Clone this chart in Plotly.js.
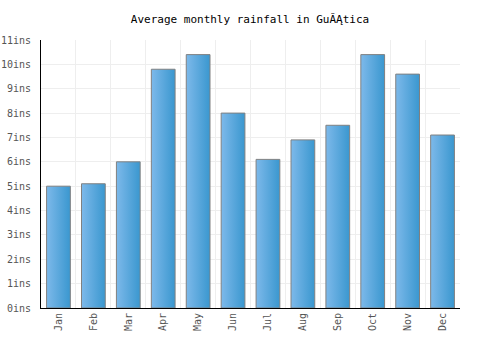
<!DOCTYPE html>
<html><head><meta charset="utf-8">
<script src="https://cdn.plot.ly/plotly-3.0.1.min.js"></script>
<style>html,body{margin:0;padding:0;background:#fff}</style>
</head><body>
<div id="chart" style="width:500px;height:350px"></div>
<script>
const months = ["Jan","Feb","Mar","Apr","May","Jun","Jul","Aug","Sep","Oct","Nov","Dec"];
const rainfall = [5.0, 5.1, 6.0, 9.8, 10.4, 8.0, 6.1, 6.9, 7.5, 10.4, 9.6, 7.1];
const yTicks = [0,1,2,3,4,5,6,7,8,9,10,11];
const yTickLabels = yTicks.map(v => v + "ins");
const titleText = "Average monthly rainfall in GuĂĄtica";

const font = {family: "DejaVu Sans Mono, monospace", size: 10, color: "#555"};

const trace = {
  type: "bar", x: months, y: rainfall,
  marker: {color: "#5aa9de", line: {color: "#808080", width: 1}},
  hoverinfo: "none"
};
const layout = {
  width: 500, height: 350,
  margin: {l: 41, r: 40, t: 40, b: 42},
  paper_bgcolor: "#fff", plot_bgcolor: "#fff",
  title: {text: titleText, font: {family: "DejaVu Sans Mono, monospace", size: 11, color: "#000"}, x: 0.5, xanchor: "center", y: 0.945, yanchor: "middle"},
  bargap: 0.32,
  showlegend: false,
  xaxis: {
    tickson: "boundaries", showgrid: true, gridcolor: "#eeeeee", gridwidth: 1,
    showline: true, linecolor: "#000", linewidth: 1,
    ticks: "", tickangle: -90, tickfont: font, fixedrange: true, mirror: false
  },
  yaxis: {
    range: [0, 11], tickvals: yTicks, ticktext: yTickLabels,
    showgrid: true, gridcolor: "#eeeeee", gridwidth: 1,
    showline: true, linecolor: "#000", linewidth: 1,
    ticks: "outside", ticklen: 7, tickcolor: "rgba(255,255,255,0)",
    tickfont: font, zeroline: false, fixedrange: true
  }
};
Plotly.newPlot("chart", [trace], layout, {staticPlot: true, displayModeBar: false}).then(gd => {
  const svg = gd.querySelector("svg.main-svg");
  const ns = "http://www.w3.org/2000/svg";
  let defs = svg.querySelector("defs");
  if (!defs) { defs = document.createElementNS(ns, "defs"); svg.insertBefore(defs, svg.firstChild); }
  const g = document.createElementNS(ns, "linearGradient");
  g.setAttribute("id", "barGrad");
  g.setAttribute("x1", "0"); g.setAttribute("y1", "0"); g.setAttribute("x2", "1"); g.setAttribute("y2", "0");
  [["0", "#7db9ea"], ["1", "#3a97cf"]].forEach(([o, c]) => {
    const s = document.createElementNS(ns, "stop");
    s.setAttribute("offset", o); s.setAttribute("stop-color", c);
    g.appendChild(s);
  });
  defs.appendChild(g);
  gd.querySelectorAll(".bars .point path").forEach(p => {
    p.style.fill = "url(#barGrad)";
  });
});
</script>
</body></html>
